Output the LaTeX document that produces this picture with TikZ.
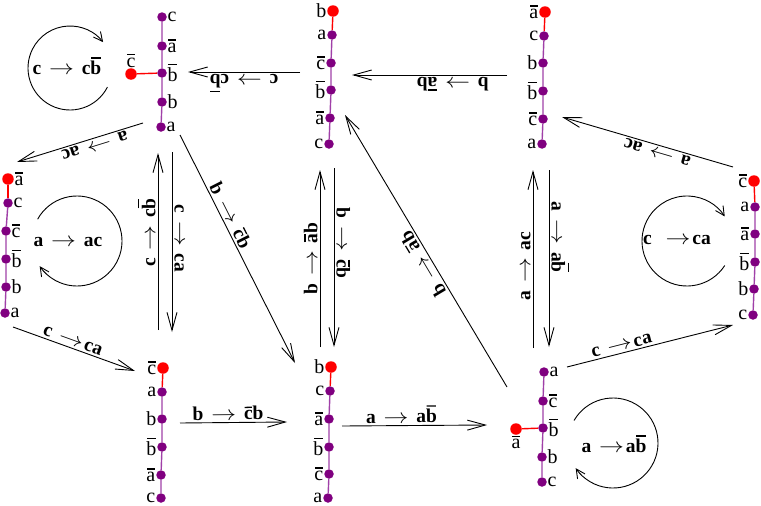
\documentclass[tikz,border=0pt]{standalone}
\usepackage{fontspec}
\usepackage{graphicx}
\setmainfont{Liberation Serif}
\usetikzlibrary{arrows.meta}
\newcommand\ob[1]{\leavevmode\setbox0\hbox{#1}\dimen0=\ht0\advance\dimen0 by 0.13em\hbox{\rlap{\hbox to\wd0{\hss\raisebox{\dimen0}{\rule{0.85\wd0}{0.065em}}\hss}}\box0}}
\newcommand\arw{\scalebox{1.2}[1]{$\rightarrow$}}
\newcommand\ra{\hspace{0.4em}\arw\hspace{0.4em}}
\newcommand\rb{\hspace{0.4em}\arw\hspace{0.1em}}
\definecolor{dotp}{HTML}{800080}
\definecolor{linep}{HTML}{A040A8}
\definecolor{dotr}{HTML}{FF0000}
\begin{document}
\begin{tikzpicture}[x=1pt,y=-1pt,
  pd/.style={circle,fill=dotp,inner sep=0pt,minimum size=9.5pt},
  rd/.style={circle,fill=dotr,inner sep=0pt,minimum size=11.5pt},
  tl/.style={font=\fontsize{20}{23}\selectfont,inner sep=0.5pt},
  seg/.style={draw=linep,line width=1.4pt},
  rseg/.style={draw=dotr,line width=1.4pt},
  arr/.style={-{Straight Barb[length=18pt,width=10pt]},line width=0.9pt},
  loop/.style={-{Straight Barb[length=9pt,width=9pt]},line width=0.9pt},
  lab/.style={font=\fontsize{19.5}{23}\selectfont\bfseries,sloped,above,allow upside down,inner sep=2pt},
  ll/.style={font=\fontsize{19.5}{23}\selectfont\bfseries,inner sep=0pt}]
\useasboundingbox (0,0) rectangle (761,506);
% ---------- tree 1
\node[pd,label={[tl]right:c}] (A1) at (162,17) {};
\node[pd,label={[tl]right:\ob{a}}] (A2) at (162,46) {};
\node[pd,label={[tl]right:\ob{b}}] (A3) at (162,73) {};
\node[pd,label={[tl]right:b}] (A4) at (162,102) {};
\node[pd,label={[tl]right:a}] (A5) at (161,127) {};
\node[rd,label={[tl]above:\ob{c}}] (A0) at (131,74) {};
\draw[seg] (A1)--(A2)--(A3)--(A4)--(A5);
\draw[rseg] (A0)--(A3);
% ---------- tree 2
\node[rd,label={[tl]left:b}] (B0) at (333,11) {};
\node[pd,label={[tl]left:a}] (B1) at (332,35) {};
\node[pd,label={[tl]left:\ob{c}}] (B2) at (331,63) {};
\node[pd,label={[tl]left:\ob{b}}] (B3) at (331,90) {};
\node[pd,label={[tl]left:\ob{a}}] (B4) at (330,118) {};
\node[pd,label={[tl]left:c}] (B5) at (329,144) {};
\draw[rseg] (B0)--(B1);
\draw[seg] (B1)--(B2)--(B3)--(B4)--(B5);
% ---------- tree 3
\node[rd,label={[tl]left:\ob{a}}] (C0) at (545,12) {};
\node[pd,label={[tl]left:c}] (C1) at (544,36) {};
\node[pd,label={[tl]left:b}] (C2) at (543,63) {};
\node[pd,label={[tl]left:\ob{b}}] (C3) at (543,91) {};
\node[pd,label={[tl]left:\ob{c}}] (C4) at (543,119) {};
\node[pd,label={[tl]left:a}] (C5) at (542,144) {};
\draw[rseg] (C0)--(C1);
\draw[seg] (C1)--(C2)--(C3)--(C4)--(C5);
% ---------- tree 4
\node[rd,label={[tl]right:\ob{a}}] (D0) at (8,179) {};
\node[pd,label={[tl]right:c}] (D1) at (8,203) {};
\node[pd,label={[tl]right:\ob{c}}] (D2) at (6,231) {};
\node[pd,label={[tl]right:\ob{b}}] (D3) at (6,259) {};
\node[pd,label={[tl]right:b}] (D4) at (6,287) {};
\node[pd,label={[tl]right:a}] (D5) at (5,313) {};
\draw[rseg] (D0)--(D1);
\draw[seg] (D1)--(D2)--(D3)--(D4)--(D5);
% ---------- tree 5
\node[rd,label={[tl]left:\ob{c}}] (E0) at (754,181) {};
\node[pd,label={[tl]left:a}] (E1) at (755,207) {};
\node[pd,label={[tl]left:\ob{a}}] (E2) at (755,234) {};
\node[pd,label={[tl]left:\ob{b}}] (E3) at (755,262) {};
\node[pd,label={[tl]left:b}] (E4) at (754,289) {};
\node[pd,label={[tl]left:c}] (E5) at (753,315) {};
\draw[rseg] (E0)--(E1);
\draw[seg] (E1)--(E2)--(E3)--(E4)--(E5);
% ---------- tree 6
\node[rd,label={[tl]left:\ob{c}}] (F0) at (163,368) {};
\node[pd,label={[tl]left:a}] (F1) at (162,392) {};
\node[pd,label={[tl]left:b}] (F2) at (162,419) {};
\node[pd,label={[tl]left:\ob{b}}] (F3) at (162,447) {};
\node[pd,label={[tl]left:\ob{a}}] (F4) at (161,475) {};
\node[pd,label={[tl]left:c}] (F5) at (161,498) {};
\draw[rseg] (F0)--(F1);
\draw[seg] (F1)--(F2)--(F3)--(F4)--(F5);
% ---------- tree 7
\node[rd,label={[tl]left:b}] (G0) at (331,367) {};
\node[pd,label={[tl]left:c}] (G1) at (330,391) {};
\node[pd,label={[tl]left:\ob{a}}] (G2) at (329,419) {};
\node[pd,label={[tl]left:\ob{b}}] (G3) at (329,447) {};
\node[pd,label={[tl]left:\ob{c}}] (G4) at (329,474) {};
\node[pd,label={[tl]left:a}] (G5) at (328,498) {};
\draw[rseg] (G0)--(G1);
\draw[seg] (G1)--(G2)--(G3)--(G4)--(G5);
% ---------- tree 8
\node[pd,label={[tl]right:a}] (H1) at (544,372) {};
\node[pd,label={[tl]right:\ob{c}}] (H2) at (543,401) {};
\node[pd,label={[tl]right:\ob{b}}] (H3) at (543,428) {};
\node[pd,label={[tl]right:b}] (H4) at (542,457) {};
\node[pd,label={[tl]right:c}] (H5) at (542,482) {};
\node[rd,label={[tl]below:\ob{a}}] (H0) at (516,429) {};
\draw[seg] (H1)--(H2)--(H3)--(H4)--(H5);
\draw[rseg] (H0)--(H3);
% ---------- loops
\node[ll] (L1) at (67,66) {c\ra c\ob{b}};
\coordinate (O1) at (70,68);
\draw[loop] (O1) ++(27:42) arc[start angle=27,end angle=322,radius=42];
\node[ll] (L4) at (68,242) {a\ra ac};
\coordinate (O4) at (77,241);
\draw[loop] (O4) ++(209:45) arc[start angle=209,end angle=506,radius=45];
\node[ll] (L5) at (677,240) {c\hspace{0.3em}\rb ca};
\coordinate (O5) at (687,241);
\draw[loop] (O5) ++(33:45) arc[start angle=33,end angle=327,radius=45];
\node[ll] (L8) at (614,444) {a\rb a\ob{b}};
\coordinate (O8) at (613,443);
\draw[loop] (O8) ++(210:45) arc[start angle=210,end angle=506,radius=45];
% ---------- connector ends
\coordinate (e1a) at (300,72);  \coordinate (e1b) at (188,72);
\coordinate (e2a) at (507,75);  \coordinate (e2b) at (352,75);
\coordinate (e3a) at (143,123); \coordinate (e3b) at (17,162);
\coordinate (e4a) at (13,327);  \coordinate (e4b) at (135,371);
\coordinate (e5a) at (158,330); \coordinate (e5b) at (158,153);
\coordinate (e6a) at (172,152); \coordinate (e6b) at (172,332);
\coordinate (e7a) at (180,135); \coordinate (e7b) at (295,363);
\coordinate (e8a) at (320,347); \coordinate (e8b) at (320,170);
\coordinate (e9a) at (334,168); \coordinate (e9b) at (334,347);
\coordinate (e10a) at (180,423); \coordinate (e10b) at (287,422);
\coordinate (e11a) at (342,426); \coordinate (e11b) at (487,425);
\coordinate (e12a) at (507,387); \coordinate (e12b) at (345,115);
\coordinate (e13a) at (533,348); \coordinate (e13b) at (533,170);
\coordinate (e14a) at (549,170); \coordinate (e14b) at (549,347);
\coordinate (e15a) at (733,167); \coordinate (e15b) at (562,117);
\coordinate (e16a) at (567,367); \coordinate (e16b) at (733,325);
% ---------- connectors
\draw[arr] (e1a) -- node[lab,pos=.5] {c\ra c\ob{b}} (e1b);
\draw[arr] (e2a) -- node[lab,pos=.35] {b\ra\ob{a}b} (e2b);
\draw[arr] (e3a) -- node[lab,pos=.4] {a\ra ac} (e3b);
\draw[arr] (e4a) -- node[lab,pos=.47] {c\rb ca} (e4b);
\draw[arr] (e5a) -- node[lab,pos=.55] {c\ra c\ob{b}} (e5b);
\draw[arr] (e6a) -- node[lab,pos=.48] {c\ra ca} (e6b);
\draw[arr] (e7a) -- node[lab,pos=.37] {b\ra\ob{c}b} (e7b);
\draw[arr] (e8a) -- node[lab,pos=.5] {b\ra\ob{a}b} (e8b);
\draw[arr] (e9a) -- node[lab,pos=.42] {b\ra\ob{c}b} (e9b);
\draw[arr] (e10a) -- node[lab,pos=.45] {b\ra\ob{c}b} (e10b);
\draw[arr] (e11a) -- node[lab,pos=.41] {a\ra a\ob{b}} (e11b);
\draw[arr] (e12a) -- node[lab,pos=.47] {b\ra\ob{a}b} (e12b);
\draw[arr] (e13a) -- node[lab,pos=.46] {a\ra ac} (e13b);
\draw[arr] (e14a) -- node[lab,pos=.38] {a\ra a\ob{b}} (e14b);
\draw[arr] (e15a) -- node[lab,pos=.43] {a\ra ac} (e15b);
\draw[arr] (e16a) -- node[lab,pos=.34] {c\rb ca} (e16b);
\end{tikzpicture}
\end{document}
